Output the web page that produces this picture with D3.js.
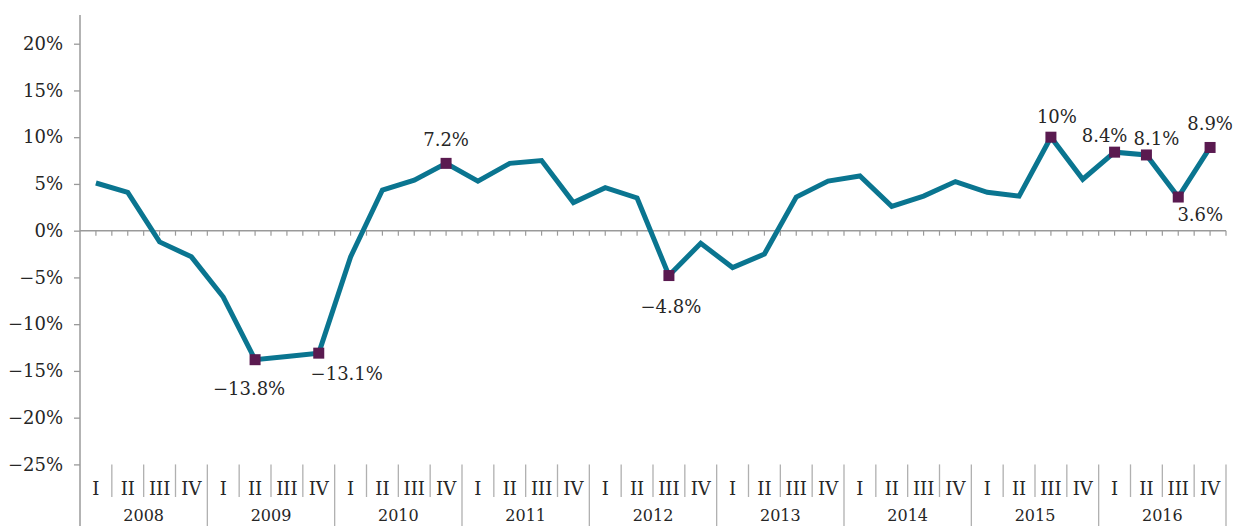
<!DOCTYPE html>
<html>
<head>
<meta charset="utf-8">
<script src="https://cdn.jsdelivr.net/npm/d3@7"></script>
<style>
  html, body { margin: 0; padding: 0; background: #fff; }
  svg { display: block; }
  svg text { font-family: "DejaVu Serif", "Liberation Serif", serif; fill: #262626; }
</style>
</head>
<body>
<svg id="chart" width="1234" height="526"></svg>
<script>
// ---- Data ----
const years = ["2008", "2009", "2010", "2011", "2012", "2013", "2014", "2015", "2016"];
const quarterNames = ["I", "II", "III", "IV"];
const values = [
  5.1, 4.1, -1.2, -2.8,      // 2008
  -7.1, -13.8, -13.45, -13.1, // 2009
  -2.8, 4.35, 5.4, 7.2,      // 2010
  5.3, 7.2, 7.5, 3.0,        // 2011
  4.6, 3.5, -4.8, -1.35,     // 2012
  -3.95, -2.5, 3.6, 5.3,     // 2013
  5.85, 2.6, 3.7, 5.25,      // 2014
  4.1, 3.7, 10.0, 5.5,       // 2015
  8.4, 8.1, 3.6, 8.9         // 2016
];
const yTicks = [-25, -20, -15, -10, -5, 0, 5, 10, 15, 20];
// Highlighted points (index into values) with their label text
const highlightIdx = [5, 7, 11, 18, 30, 32, 33, 34, 35];
const highlightText = ["−13.8%", "−13.1%", "7.2%", "−4.8%", "10%", "8.4%", "8.1%", "3.6%", "8.9%"];

// ---- Layout / style ----
const W = 1234, H = 526;
const left = 80, right = 1226;
const fontStack = '"DejaVu Serif", "Liberation Serif", serif';
const fontSize = 18;
const lineColor = "#0a7590", markerColor = "#5a1a50", axisColor = "#9a9a9a", sepColor = "#b0b0b0";
// label offsets (dx, dy) relative to marker, in pixels
const labelOffsets = [[-6, 35], [28, 27], [0, -17], [2, 37], [6, -14], [-10, -10], [10, -10], [22, 24], [0, -17]];

const svg = d3.select("#chart");

const keys = [];
years.forEach(y => quarterNames.forEach(q => keys.push(y + "-" + q)));

const x = d3.scaleBand().domain(keys).range([left, right]).paddingInner(0).paddingOuter(0);
const y = d3.scaleLinear().domain([-25, 20]).range([464.4, 43.7]);
const cx = k => x(k) + x.bandwidth() / 2;

// y axis line
svg.append("line")
  .attr("x1", left).attr("x2", left).attr("y1", 15).attr("y2", H)
  .attr("stroke", axisColor).attr("stroke-width", 1.5);

// y axis ticks and labels
const yAxis = d3.axisLeft(y).tickValues(yTicks).tickSize(6).tickPadding(11)
  .tickFormat(d => (d < 0 ? "−" + Math.abs(d) : d) + "%");
const gy = svg.append("g").attr("transform", `translate(${left},0)`).call(yAxis)
  .attr("font-family", null).attr("font-size", null);
gy.select(".domain").remove();
gy.selectAll(".tick line").attr("stroke", axisColor).attr("stroke-width", 1.3);
gy.selectAll(".tick text").attr("font-size", fontSize).attr("fill", "#262626")
  .style("font-family", fontStack);

// zero line with small ticks at quarter centres and boundaries
svg.append("line")
  .attr("x1", left).attr("x2", right).attr("y1", y(0)).attr("y2", y(0))
  .attr("stroke", axisColor).attr("stroke-width", 1.6);
const halfTicks = [];
keys.forEach(k => { halfTicks.push(cx(k)); halfTicks.push(x(k) + x.bandwidth()); });
svg.append("g").selectAll("line").data(halfTicks).join("line")
  .attr("x1", d => d).attr("x2", d => d)
  .attr("y1", y(0)).attr("y2", y(0) + 5)
  .attr("stroke", axisColor).attr("stroke-width", 1.2);

// bottom category axis: quarter separators and labels
const bottomTop = y(-25);
const qSep = svg.append("g");
keys.forEach((k, i) => {
  const xr = x(k) + x.bandwidth();
  const isYearEnd = (i % 4) === 3;
  qSep.append("line")
    .attr("x1", xr).attr("x2", xr)
    .attr("y1", bottomTop).attr("y2", isYearEnd ? H : 497)
    .attr("stroke", sepColor).attr("stroke-width", 1.3);
});
svg.append("g").selectAll("text").data(keys).join("text")
  .attr("x", d => cx(d)).attr("y", 495)
  .attr("text-anchor", "middle").attr("font-size", fontSize)
  .style("font-family", fontStack)
  .text(d => d.split("-")[1]);

// year labels
svg.append("g").selectAll("text").data(years).join("text")
  .attr("x", yr => (x(yr + "-I") + x(yr + "-IV") + x.bandwidth()) / 2)
  .attr("y", 521)
  .attr("text-anchor", "middle").attr("font-size", 16)
  .style("font-family", fontStack)
  .text(d => d);

// the line
const line = d3.line().x((d, i) => cx(keys[i])).y(d => y(d));
svg.append("path").datum(values)
  .attr("d", line)
  .attr("fill", "none").attr("stroke", lineColor)
  .attr("stroke-width", 5).attr("stroke-linejoin", "miter").attr("stroke-linecap", "butt");

// markers
const ms = 11;
svg.append("g").selectAll("rect").data(highlightIdx).join("rect")
  .attr("x", i => cx(keys[i]) - ms / 2).attr("y", i => y(values[i]) - ms / 2)
  .attr("width", ms).attr("height", ms).attr("fill", markerColor);

// labels
svg.append("g").selectAll("text").data(highlightIdx).join("text")
  .attr("x", (i, j) => cx(keys[i]) + labelOffsets[j][0])
  .attr("y", (i, j) => y(values[i]) + labelOffsets[j][1])
  .attr("text-anchor", "middle").attr("font-size", fontSize)
  .style("font-family", fontStack)
  .text((i, j) => highlightText[j]);
</script>
</body>
</html>
